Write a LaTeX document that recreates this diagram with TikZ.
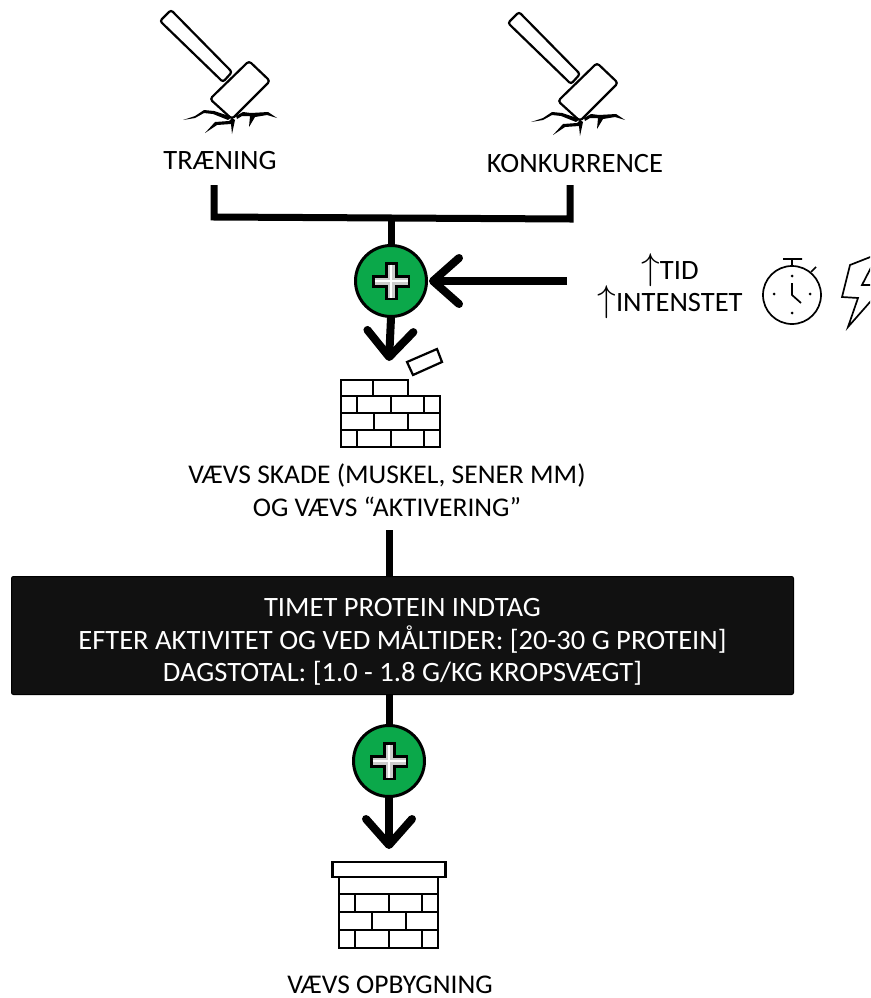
\documentclass[tikz,border=0pt]{standalone}
\usepackage{fontspec}
\setmainfont{Carlito}[FakeStretch=1.02]
\usepackage{xcolor}
\usetikzlibrary{arrows.meta,positioning,calc}
\definecolor{plusgreen}{HTML}{0BA84A}
\definecolor{boxblack}{HTML}{111111}

\tikzset{
    hammer/.pic = {
        \draw[line width=2.2pt, rounded corners=2.5pt, fill=white]
            (-60,-109) -- (-71,-98) -- (-8,-37) -- (1,-47) -- cycle;
        \draw[line width=2.2pt, rounded corners=3pt, fill=white]
            (18,-58) -- (39,-38) -- (1,0) -- (-21,-20) -- cycle;
        % cracks
        \fill (-3,1) -- (-18,-5) -- (-27,-6) -- (-36,-1) -- (-48,1) -- (-36,-3)
            -- (-27,-9) -- (-17,-8) -- (1,-2) -- cycle;
        \fill (0,5) -- (-14,6) -- (-26,14) -- (-16,3) -- (-2,2) -- (1,-1) -- (4,1) -- (1,15) -- cycle;
        \fill (5,-3) -- (12,-7) -- (20,-6) -- (37,-7) -- (46,-1) -- (36,-4) -- (24,-2)
            -- (18,8) -- (19,-3) -- (11,-3) -- (6,0) -- cycle;
    },
    wallrows/.pic = {
        \foreach \y in {16,33,50} \draw[line width=2.2pt] (0,\y) -- (99,\y);
        \draw[line width=2.2pt] (0,0) rectangle (99,67);
        \foreach \x in {16,50,83} {
            \draw[line width=2.2pt] (\x,16) -- (\x,33);
            \draw[line width=2.2pt] (\x,50) -- (\x,67);
        }
        \foreach \x in {33,67} \draw[line width=2.2pt] (\x,33) -- (\x,50);
    },
    pluscross/.pic = {
        \draw[line width=13pt] (-19,0) -- (19,0) (0,-19) -- (0,19);
        \draw[line width=7pt, gray!40] (-16.5,0) -- (16.5,0) (0,-16.5) -- (0,16.5);
        \draw[line width=1.2pt, white] (-16.5,0) -- (16.5,0) (0,-16.5) -- (0,16.5);
    },
}

\begin{document}
\begin{tikzpicture}[
    x=1pt, y=-1pt,
    font=\fontsize{28}{32.5}\selectfont,
    label/.style   = {inner sep=0pt, align=center},
    smalllabel/.style = {label, font=\fontsize{27}{32}\selectfont},
    plusnode/.style= {circle, draw, line width=3pt, fill=plusgreen, minimum size=71pt, inner sep=0pt},
    foodbox/.style = {draw=black, fill=boxblack, text=white, line width=1pt, rounded corners=2pt,
                      minimum width=782pt, minimum height=118pt, align=center, inner sep=0pt},
    thickline/.style = {line width=7pt},
    arr/.style     = {line width=8pt, -{Straight Barb[length=26pt, width=46pt, round]}},
    thin2/.style   = {line width=1.7pt},
]
\useasboundingbox (0,0) rectangle (870,998);
\clip (0,0) rectangle (870,998);

% ============ hammers ============
\pic at (231,119) {hammer};
\pic at (579,121) {hammer};
\node[label] (train) at (220,161) {TRÆNING};
\node[label] (konk) at (575,164) {KONKURRENCE};

% ============ top join ============
\coordinate (trainEnd) at (214,185);
\coordinate (konkEnd) at (570,185);
\coordinate (join) at (391,218);
\coordinate (timeEnd) at (567,281);
\draw[thickline] (trainEnd) -- (214,217) -- (570,219) -- (konkEnd);

\node[plusnode] (plusA) at (391,281) {};
\pic at (plusA) {pluscross};
\draw[thickline] (join) -- (plusA.north);
\draw[arr] (timeEnd) -- ([xshift=1pt]plusA.east);

% ============ time and intensity ============
\node[label] (tid) at (670,270) {\scalebox{1.5}{$\uparrow$}TID};
\node[label] (intens) at (670,302) {\scalebox{1.5}{$\uparrow$}INTENSTET};
\draw[thin2] (792,295) circle (29);
\draw[thin2] (783,259) -- (802,259) (792,259) -- (792,266) (811,272) -- (816,267);
\foreach \a/\b in {792/276,792/313,774/294,810/294} \fill (\a,\b) circle (1.5);
\draw[thin2] (792,283) -- (792,295) -- (801,303);
\draw[thin2, fill=white, line join=miter] (850,265) -- (878,254) -- (862,285) -- (885,285)
    -- (848,327) -- (858,298) -- (842,297) -- cycle;

% ============ damaged wall ============
\coordinate (wallTop) at (389,361);
\draw[arr] (plusA.south) -- (wallTop);
\pic at (341,380) {wallrows};
\fill[white] (409,378) rectangle (442,395);
\draw[line width=2.2pt] (408,379) -- (408,396) (373,380) -- (373,396) (341,380) -- (408,380);
\draw[line width=2.2pt, fill=white, line join=miter] (407,362) -- (437,349) -- (442,362) -- (413,375) -- cycle;
\node[smalllabel] (skadeA) at (387,475) {VÆVS SKADE (MUSKEL, SENER MM)};
\node[smalllabel] (skadeB) at (387,507) {OG VÆVS “AKTIVERING”};

% ============ protein box ============
\node[foodbox] (food) at (402.5,635.5) {\rule{0pt}{31pt}TIMET PROTEIN INDTAG\\
    EFTER AKTIVITET OG VED MÅLTIDER: [20-30 G PROTEIN]\\
    DAGSTOTAL: [1.0 - 1.8 G/KG KROPSVÆGT]};
\coordinate (skadeEnd) at (389,530);
\draw[thickline] (skadeEnd) -- (skadeEnd |- food.north);

\node[plusnode] (plusB) at (389,761) {};
\pic at (plusB) {pluscross};
\draw[thickline] (plusB.north |- food.south) -- (plusB.north);

% ============ finished wall ============
\coordinate (capTop) at (389,849);
\draw[arr] (plusB.south) -- (capTop);
\pic[yscale=1.06] at (339,877) {wallrows};
\node[draw, line width=2.2pt, fill=white, minimum width=113pt, minimum height=15pt, inner sep=0pt] (cap) at (389,869.5) {};
\node[smalllabel] (opbyg) at (390,984.5) {VÆVS OPBYGNING};
\end{tikzpicture}
\end{document}
